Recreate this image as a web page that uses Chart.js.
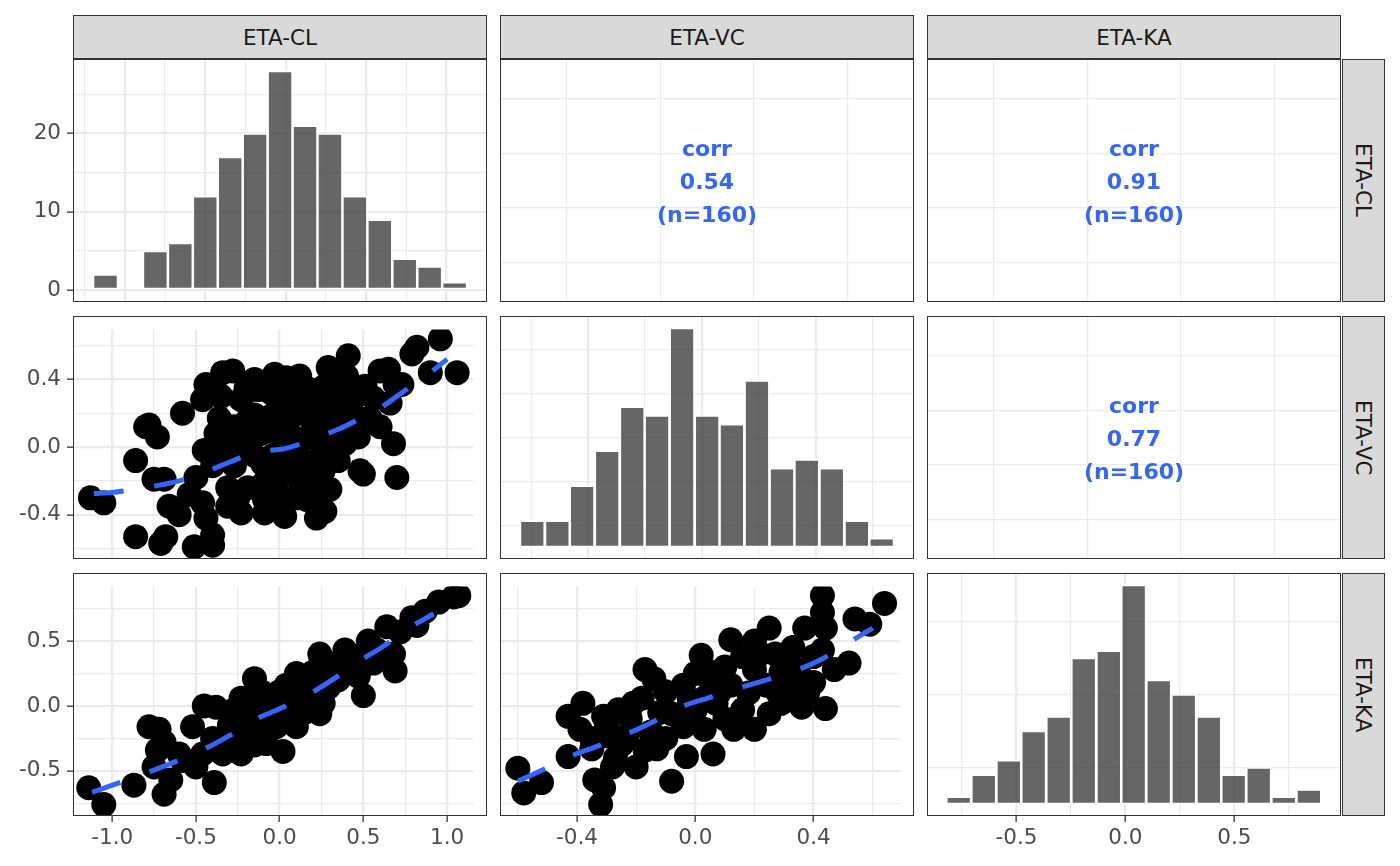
<!DOCTYPE html>
<html>
<head>
<meta charset="utf-8">
<script src="https://cdn.jsdelivr.net/npm/chart.js@4.4.1/dist/chart.umd.min.js"></script>
<style>
  body { margin: 0; background: #fff; width: 1400px; height: 866px; position: relative; overflow: hidden; font-family: "DejaVu Sans", sans-serif; }
  canvas { position: absolute; }
  .box { position: absolute; box-sizing: border-box; border: 1.4px solid #333; pointer-events: none; }
  .strip { position: absolute; box-sizing: border-box; border: 1.4px solid #333; background: #D9D9D9; color: #1A1A1A; font-size: 21.5px; display: flex; align-items: center; justify-content: center; }
  .strip.side { writing-mode: vertical-rl; }
  .corr { position: absolute; width: 300px; text-align: center; color: #3366FF; font-weight: bold; font-size: 22px; line-height: 33px; }
</style>
</head>
<body>
<script>
// variable names
const vars = ["ETA-CL", "ETA-VC", "ETA-KA"];

// histograms: bin centres and counts
const clBins = [-1.12, -0.965, -0.81, -0.655, -0.5, -0.345, -0.19, -0.035, 0.12, 0.275, 0.43, 0.585, 0.74, 0.895, 1.05];
const clCounts = [2, 0, 5, 6, 12, 17, 20, 28, 21, 20, 12, 9, 4, 3, 1];
const vcBins = [-0.596, -0.508, -0.421, -0.333, -0.245, -0.158, -0.070, 0.018, 0.105, 0.193, 0.281, 0.368, 0.456, 0.544, 0.631];
const vcCounts = [3, 3, 7, 11, 16, 15, 25, 15, 14, 19, 9, 10, 9, 3, 1];
const kaBins = [-0.765, -0.650, -0.535, -0.421, -0.306, -0.191, -0.076, 0.038, 0.153, 0.268, 0.383, 0.497, 0.612, 0.727, 0.842];
const kaCounts = [1, 4, 6, 10, 12, 20, 21, 30, 17, 15, 12, 4, 5, 1, 2];

// scatter points
const clVc = [[-1.13,-0.30],[-1.05,-0.33],[-0.86,-0.08],[-0.86,-0.53],[-0.78,0.13],[-0.80,0.12],[-0.73,0.06],[-0.75,-0.19],[-0.69,-0.19],[-0.66,-0.35],[-0.60,-0.40],[-0.68,-0.53],[-0.71,-0.57],[-0.51,-0.59],[-0.40,-0.58],[-0.44,-0.42],[-0.40,-0.52],[-0.54,-0.28],[-0.50,-0.18],[-0.45,-0.02],[-0.58,0.20],[-0.46,0.28],[-0.44,0.37],[-0.34,0.44],[-0.28,0.45],[-0.36,0.17],[-0.32,0.12],[-0.23,0.28],[-0.15,0.40],[-0.13,0.34],[-0.03,0.43],[0.04,0.41],[-0.19,0.16],[-0.04,0.19],[-0.31,0.02],[-0.19,-0.01],[-0.02,0.08],[0.18,0.34],[0.29,0.47],[0.41,0.54],[0.16,0.19],[0.33,0.31],[0.37,0.21],[0.47,0.06],[0.51,0.36],[0.60,0.45],[0.65,0.46],[0.66,0.26],[0.60,0.12],[0.68,0.02],[0.69,0.37],[0.50,-0.16],[0.48,-0.14],[0.70,-0.18],[0.79,0.55],[0.82,0.59],[0.90,0.44],[0.96,0.64],[1.06,0.44],[0.73,0.37],[-0.23,-0.39],[-0.09,-0.39],[0.03,-0.41],[0.00,-0.31],[0.22,-0.42],[0.27,-0.38],[0.20,-0.26],[0.24,-0.13],[-0.27,-0.11],[-0.15,-0.05],[-0.07,-0.16],[0.04,-0.09],[0.12,-0.20],[0.20,0.08],[-0.11,0.08],[-0.19,-0.24],[0.08,0.02],[-0.02,-0.24],[-0.31,-0.24],[-0.40,-0.11],[-0.34,-0.01],[0.16,-0.09],[0.27,0.12],[0.37,0.10],[0.39,0.02],[0.54,0.17],[0.56,0.29],[0.00,0.29],[0.08,0.19],[-0.15,0.19],[-0.46,-0.33],[-0.31,-0.35],[0.16,-0.31],[0.26,-0.14],[0.31,0.21],[0.47,0.17],[0.43,0.27],[0.27,0.36],[-0.27,0.12],[-0.38,0.08],[-0.04,-0.05],[0.20,0.25],[0.04,-0.31],[-0.09,-0.31],[-0.25,0.05],[-0.10,-0.10],[0.10,-0.05],[0.15,0.05],[-0.05,0.15],[0.10,0.30],[-0.20,0.35],[0.25,-0.05],[0.30,0.00],[-0.10,-0.22],[0.10,-0.30],[0.30,-0.25],[-0.25,-0.30],[-0.05,0.32],[0.12,0.42],[0.20,0.15],[0.05,0.10],[-0.20,0.08],[0.35,-0.08],[0.45,0.30],[0.40,0.42],[-0.35,0.30],[0.00,-0.15],[0.12,-0.12]];
const clKa = [[-1.14,-0.63],[-1.05,-0.76],[-0.87,-0.61],[-0.78,-0.16],[-0.72,-0.18],[-0.73,-0.34],[-0.69,-0.28],[-0.75,-0.47],[-0.69,-0.68],[-0.65,-0.57],[-0.60,-0.37],[-0.52,-0.16],[-0.50,-0.47],[-0.46,-0.37],[-0.39,-0.59],[-0.45,0.00],[-0.38,-0.01],[-0.34,-0.37],[-0.31,-0.23],[-0.23,-0.37],[-0.27,-0.03],[-0.15,0.21],[-0.19,0.06],[-0.11,-0.08],[-0.15,-0.23],[-0.08,-0.29],[0.02,-0.35],[-0.02,-0.16],[0.04,0.16],[-0.04,0.06],[0.10,-0.16],[0.16,0.18],[0.24,-0.06],[0.26,0.02],[0.29,0.14],[0.24,0.40],[0.27,0.31],[0.39,0.43],[0.39,0.26],[0.47,0.23],[0.50,0.08],[0.53,0.50],[0.64,0.61],[0.68,0.40],[0.69,0.27],[0.79,0.68],[0.82,0.62],[0.87,0.73],[0.95,0.80],[1.04,0.84],[1.07,0.85],[0.56,0.33],[0.58,0.43],[0.14,0.02],[0.08,0.02],[0.18,0.06],[-0.27,-0.28],[-0.23,-0.11],[-0.07,0.02],[0.02,-0.03],[0.35,0.33],[0.45,0.38],[0.72,0.57],[0.20,0.26],[-0.23,0.06],[-0.38,-0.28],[-0.58,-0.42],[-0.11,0.11],[0.00,0.11],[-0.20,-0.20],[-0.10,-0.15],[0.05,-0.05],[0.10,0.10],[-0.05,-0.05],[0.15,-0.05],[-0.30,-0.15],[-0.20,-0.05],[0.20,0.15],[0.30,0.25],[0.10,0.25],[-0.10,0.00],[0.35,0.20],[0.45,0.30],[-0.40,-0.25],[-0.15,-0.30]];
const vcKa = [[-0.60,-0.48],[-0.58,-0.67],[-0.52,-0.59],[-0.43,-0.39],[-0.43,-0.08],[-0.38,0.02],[-0.34,-0.57],[-0.31,-0.63],[-0.32,-0.76],[-0.35,-0.33],[-0.31,-0.08],[-0.26,-0.03],[-0.27,-0.40],[-0.20,-0.47],[-0.17,-0.34],[-0.17,0.28],[-0.14,0.21],[-0.18,0.06],[-0.10,0.11],[-0.10,-0.25],[-0.04,0.16],[-0.03,-0.39],[-0.08,-0.58],[0.02,0.39],[0.00,-0.03],[0.03,-0.18],[0.06,-0.37],[0.07,0.26],[0.12,0.51],[0.13,-0.18],[0.16,-0.03],[0.16,0.38],[0.20,0.50],[0.25,0.60],[0.27,0.40],[0.20,-0.18],[0.25,-0.06],[0.29,0.02],[0.24,0.16],[0.32,0.14],[0.36,-0.01],[0.37,0.60],[0.40,0.18],[0.44,-0.02],[0.43,0.85],[0.43,0.72],[0.44,0.60],[0.43,0.43],[0.47,0.28],[0.52,0.33],[0.54,0.67],[0.59,0.63],[0.64,0.79],[0.32,0.33],[0.07,0.02],[-0.08,-0.06],[-0.23,-0.23],[-0.39,-0.18],[-0.30,-0.23],[-0.04,-0.16],[0.29,0.26],[0.40,0.38],[0.03,0.06],[0.12,0.16],[0.20,0.28],[-0.21,0.02],[-0.13,-0.33],[-0.28,-0.47],[-0.30,-0.15],[-0.22,-0.10],[-0.12,-0.05],[-0.02,0.05],[0.08,0.10],[0.18,0.10],[0.28,0.10],[0.35,0.25],[-0.25,-0.30],[-0.15,-0.20],[0.00,0.25],[0.10,0.30],[0.22,0.40],[0.33,0.45],[-0.05,-0.10],[0.10,-0.10],[0.05,0.20],[-0.35,-0.25],[0.38,0.10]];

// smoothers
const clVcLine = [[-1.11,-0.275],[-1.0,-0.268],[-0.9,-0.255],[-0.8,-0.24],[-0.7,-0.222],[-0.6,-0.2],[-0.5,-0.17],[-0.4,-0.13],[-0.3,-0.09],[-0.2,-0.05],[-0.1,-0.022],[0.0,-0.015],[0.1,0.01],[0.2,0.048],[0.3,0.085],[0.4,0.127],[0.5,0.18],[0.6,0.23],[0.7,0.30],[0.8,0.37],[0.9,0.44],[1.0,0.52]];
const clKaLine = [[-1.12,-0.665],[-0.96,-0.593],[-0.78,-0.508],[-0.6,-0.418],[-0.44,-0.326],[-0.3,-0.229],[-0.15,-0.107],[0.0,-0.022],[0.17,0.087],[0.31,0.197],[0.47,0.34],[0.62,0.46],[0.76,0.59],[0.92,0.71]];
const vcKaLine = [[-0.6,-0.58],[-0.507,-0.483],[-0.42,-0.386],[-0.32,-0.3],[-0.23,-0.215],[-0.14,-0.12],[-0.05,-0.01],[0.045,0.063],[0.143,0.135],[0.236,0.197],[0.334,0.269],[0.422,0.354],[0.51,0.476],[0.6,0.6]];

// correlations in the upper panels
const corrValues = ["0.54", "0.91", "0.77"];
const corrN = 160;

// axis breaks and labels
const clMajor = [-1, -0.5, 0, 0.5, 1], clLabels = ["-1.0", "-0.5", "0.0", "0.5", "1.0"], clMinor = [-0.75, -0.25, 0.25, 0.75];
const clHistMinor = [-1.25, -0.75, -0.25, 0.25, 0.75];
const vcMajor = [-0.4, 0, 0.4], vcLabels = ["-0.4", "0.0", "0.4"], vcMinor = [-0.6, -0.2, 0.2, 0.6];
const kaMajor = [-0.5, 0, 0.5], kaLabels = ["-0.5", "0.0", "0.5"], kaMinor = [-0.75, -0.25, 0.25, 0.75];
const cnt1Major = [0, 10, 20], cnt1Labels = ["0", "10", "20"], cnt1Minor = [5, 15, 25];
const cnt2Major = [0, 5, 10, 15, 20, 25], cnt2Minor = [2.5, 7.5, 12.5, 17.5, 22.5];
const cnt3Major = [0, 10, 20, 30], cnt3Minor = [5, 15, 25];
const txtMajor = [0, 0.25, 0.5, 0.75, 1], txtMinor = [0.125, 0.375, 0.625, 0.875];

// layout
const AX = 74, AXB = 60, PW = 412, PH = 241;
const colX = [74, 501, 928], rowY = [60, 317, 574];

Chart.defaults.font.family = "DejaVu Sans";

function axis(horizontal, min, max, major, labels, minor, show) {
  const all = major.concat(minor).sort((a, b) => a - b);
  const idx = v => major.findIndex(m => Math.abs(m - v) < 1e-9);
  return {
    type: "linear", min: min, max: max, offset: false,
    afterBuildTicks: s => { s.ticks = all.map(v => ({ value: v })); },
    afterFit: s => {
      if (horizontal) s.height = AXB; else s.width = AX;
      s.paddingLeft = 0; s.paddingRight = 0; s.paddingTop = 0; s.paddingBottom = 0;
    },
    grid: {
      color: "#EBEBEB",
      lineWidth: c => (c.tick && idx(c.tick.value) >= 0) ? 2.3 : 1.2,
      drawTicks: show, tickLength: 7, tickWidth: 1.3,
      tickColor: c => (c.tick && idx(c.tick.value) >= 0) ? "#333333" : "rgba(0,0,0,0)",
      offset: false
    },
    border: { display: false },
    ticks: {
      display: show, autoSkip: false, maxRotation: 0, minRotation: 0,
      padding: horizontal ? 4 : 6,
      color: "#4D4D4D", font: { size: 21.5 },
      callback: v => { const i = idx(v); return i >= 0 ? labels[i] : ""; }
    }
  };
}

function placeCanvas(col, row) {
  const c = document.createElement("canvas");
  c.width = PW + AX; c.height = PH + AXB;
  c.style.left = (colX[col] - AX) + "px";
  c.style.top = rowY[row] + "px";
  document.body.appendChild(c);
  return c;
}

const common = {
  responsive: false, animation: false, events: [],
  layout: { padding: 0 },
  plugins: { legend: { display: false }, tooltip: { enabled: false } }
};

function histPanel(col, row, bins, counts, xAxis, yAxis) {
  new Chart(placeCanvas(col, row), {
    type: "bar",
    data: { datasets: [{
      data: bins.map((b, i) => ({ x: b, y: counts[i] })),
      backgroundColor: "rgba(51,51,51,0.75)", borderColor: "#FFFFFF", borderWidth: 1.6,
      borderSkipped: false, barPercentage: 1, categoryPercentage: 1
    }] },
    options: Object.assign({}, common, { scales: { x: xAxis, y: yAxis } })
  });
}

function scatterPanel(col, row, pts, line, xAxis, yAxis) {
  new Chart(placeCanvas(col, row), {
    type: "scatter",
    data: { datasets: [
      { data: line.map(p => ({ x: p[0], y: p[1] })), showLine: true, borderColor: "#3366FF",
        borderWidth: 5, borderDash: [30, 31], pointRadius: 0, tension: 0.4,
        cubicInterpolationMode: "monotone", fill: false, clip: 0, order: 0 },
      { data: pts.map(p => ({ x: p[0], y: p[1] })), backgroundColor: "#000000",
        pointBackgroundColor: "#000000", pointBorderWidth: 0, pointRadius: 12.5, clip: 0, order: 1 }
    ] },
    options: Object.assign({}, common, { scales: { x: xAxis, y: yAxis } })
  });
}

function textPanel(col, row, value) {
  new Chart(placeCanvas(col, row), {
    type: "scatter",
    data: { datasets: [{ data: [] }] },
    options: Object.assign({}, common, { scales: {
      x: axis(true, -0.05, 1.05, txtMajor, [], txtMinor, false),
      y: axis(false, -0.05, 1.05, txtMajor, [], txtMinor, false)
    } })
  });
  const d = document.createElement("div");
  d.className = "corr";
  d.innerHTML = "corr<br>" + value + "<br>(n=" + corrN + ")";
  d.style.left = (colX[col] + PW / 2 - 150) + "px";
  d.style.top = (rowY[row] + PH / 2 + 1 - 49.5) + "px";
  document.body.appendChild(d);
}

// row 1
histPanel(0, 0, clBins, clCounts,
  axis(true, -1.316, 1.245, clMajor, clLabels, clHistMinor, false),
  axis(false, -1.4, 29.4, cnt1Major, cnt1Labels, cnt1Minor, true));
textPanel(1, 0, corrValues[0]);
textPanel(2, 0, corrValues[1]);

// row 2
scatterPanel(0, 1, clVc, clVcLine,
  axis(true, -1.228, 1.158, clMajor, clLabels, clMinor, false),
  axis(false, -0.656, 0.695, vcMajor, vcLabels, vcMinor, true));
histPanel(1, 1, vcBins, vcCounts,
  axis(true, -0.706, 0.741, vcMajor, vcLabels, vcMinor, false),
  axis(false, -1.25, 26.25, cnt2Major, [], cnt2Minor, false));
textPanel(2, 1, corrValues[2]);

// row 3
scatterPanel(0, 2, clKa, clKaLine,
  axis(true, -1.228, 1.158, clMajor, clLabels, clMinor, true),
  axis(false, -0.84, 0.92, kaMajor, kaLabels, kaMinor, true));
scatterPanel(1, 2, vcKa, vcKaLine,
  axis(true, -0.657, 0.694, vcMajor, vcLabels, vcMinor, true),
  axis(false, -0.84, 0.92, kaMajor, kaLabels, kaMinor, false));
histPanel(2, 2, kaBins, kaCounts,
  axis(true, -0.906, 0.985, kaMajor, kaLabels, kaMinor, true),
  axis(false, -1.5, 31.5, cnt3Major, [], cnt3Minor, false));

// panel borders and strips
for (let r = 0; r < 3; r++) {
  for (let c = 0; c < 3; c++) {
    const b = document.createElement("div");
    b.className = "box";
    b.style.left = (colX[c] - 0.7) + "px"; b.style.top = (rowY[r] - 0.7) + "px";
    b.style.width = (PW + 1.4) + "px"; b.style.height = (PH + 1.4) + "px";
    document.body.appendChild(b);
  }
}
vars.forEach((v, i) => {
  const t = document.createElement("div");
  t.className = "strip";
  t.textContent = v;
  t.style.left = (colX[i] - 0.7) + "px"; t.style.top = "15px";
  t.style.width = (PW + 1.4) + "px"; t.style.height = "44px";
  document.body.appendChild(t);
  const s = document.createElement("div");
  s.className = "strip side";
  s.textContent = v;
  s.style.left = "1342px"; s.style.top = (rowY[i] - 0.7) + "px";
  s.style.width = "43px"; s.style.height = (PH + 1.4) + "px";
  document.body.appendChild(s);
});
</script>
</body>
</html>
